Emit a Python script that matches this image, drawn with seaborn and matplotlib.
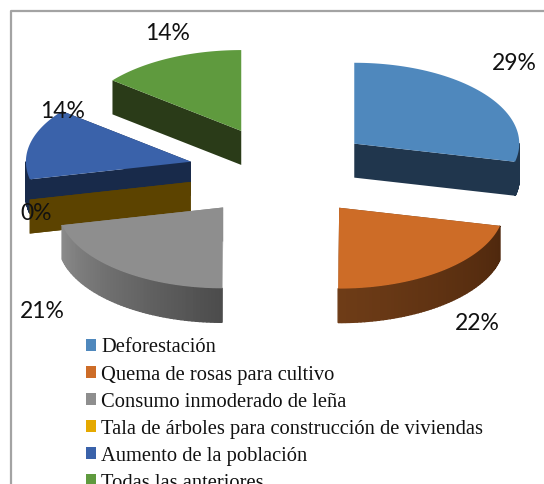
import numpy as np
import seaborn as sns
import matplotlib.pyplot as plt
from matplotlib.patches import Patch

# chart data
categories = [
    "Deforestación",
    "Quema de rosas para cultivo",
    "Consumo inmoderado de leña",
    "Tala de árboles para construcción de viviendas",
    "Aumento de la población",
    "Todas las anteriores",
]
values = [28.6, 21.5, 21.4, 0.0, 14.25, 14.25]

top_colors = ["#4f88bd", "#cd6c27", "#8e8e8e", "#e5a900", "#3a62aa", "#5f9a3e"]
wall_left = ["#20364d", "#6e3c17", "#8a8a8a", "#5c4300", "#182a4a", "#2a3b18"]
wall_right = ["#20364d", "#4f280d", "#4c4c4c", "#5c4300", "#182a4a", "#2a3b18"]
label_pos = [(514, 63), (477, 323), (42, 311), (36, 214), (63, 111), (168, 34)]

# layout, in pixels of the 544x484 canvas
CENTER_X, CENTER_Y = 281.5, 172
EXPLODE = 93
RADIUS = 165
SQUASH = 0.49
DEPTH = 34

sns.set_theme(style="white")
plt.rcParams["font.family"] = ["Liberation Serif", "DejaVu Sans"]


def rim_points(cx, cy, start, end, n=60):
    angles = np.radians(np.linspace(start, end, n))
    return cx + RADIUS * np.sin(angles), cy - RADIUS * SQUASH * np.cos(angles)


def draw_walls(ax, i, cx, cy, start, end):
    # cut faces first, the top face hides the ones that point backwards
    for a in (start, end):
        x, y = rim_points(cx, cy, a, a, 1)
        ax.fill([cx, x[0], x[0], cx], [cy, y[0], y[0] + DEPTH, cy + DEPTH],
                color=wall_left[i], lw=0, zorder=i_order[i])
    # outer wall, only the part that faces the viewer
    lo, hi = max(start, 90), min(end, 270)
    if hi > lo:
        x, y = rim_points(cx, cy, lo, hi)
        shades = sns.blend_palette([wall_right[i], wall_left[i]], len(x) - 1)
        for k, shade in enumerate(shades):
            ax.fill([x[k], x[k + 1], x[k + 1], x[k]],
                    [y[k], y[k + 1], y[k + 1] + DEPTH, y[k] + DEPTH],
                    color=shade, lw=1, zorder=i_order[i])


def draw_top(ax, i, cx, cy, start, end):
    x, y = rim_points(cx, cy, start, end)
    ax.fill(np.r_[cx, x], np.r_[cy, y], color=top_colors[i], lw=0,
            zorder=i_order[i] + 0.5)


# back slices first, the zero slice sits over the wall of its neighbour
i_order = [1, 2, 4, 3, 2, 1]

fig = plt.figure(figsize=(5.44, 4.84), dpi=100)
ax = fig.add_axes([0, 0, 1, 1])
ax.set_xlim(0, 544)
ax.set_ylim(484, 0)
ax.axis("off")

ax.plot([10.5, 10.5, 544], [484, 11, 11], color="#a3a3a3", lw=1.6, zorder=0)

edges = np.cumsum([0] + values) / 100 * 360
for i in range(len(values)):
    start, end = edges[i], edges[i + 1]
    mid = np.radians((start + end) / 2)
    cx = CENTER_X + EXPLODE * np.sin(mid)
    cy = CENTER_Y - EXPLODE * SQUASH * np.cos(mid)
    draw_walls(ax, i, cx, cy, start, end)
    if end > start:
        draw_top(ax, i, cx, cy, start, end)

for val, (x, y) in zip(values, label_pos):
    ax.text(x, y, f"{val:.0f}%", ha="center", va="center", fontsize=16.5,
            family=["Lato", "DejaVu Sans"], color="#111111", zorder=10)

handles = [Patch(color=c, lw=0) for c in top_colors]
ax.legend(handles, categories, loc="upper left",
          bbox_to_anchor=(86 / 544, 1 - 338.5 / 484), frameon=False,
          fontsize=14.8, handlelength=0.49, handleheight=0.49,
          handletextpad=0.25, labelspacing=0.39, borderpad=0,
          borderaxespad=0, labelcolor="#111111")

fig.savefig("out.png", dpi=100)
